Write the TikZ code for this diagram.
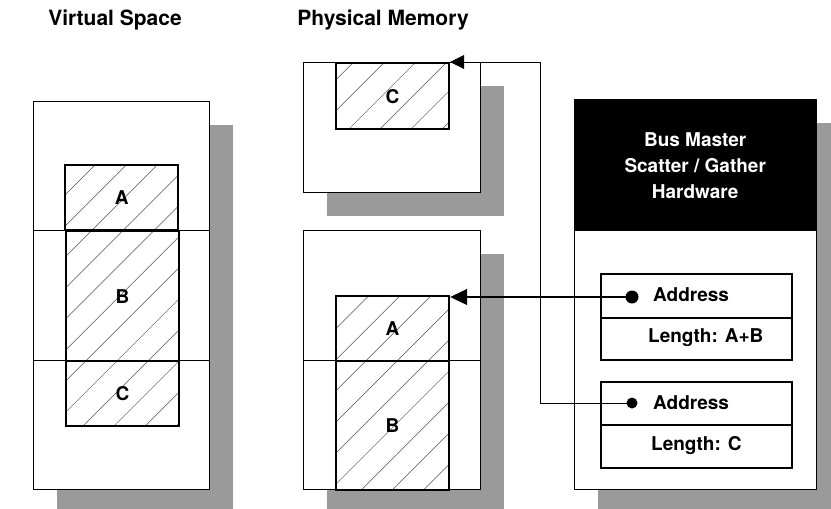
\documentclass[tikz,border=0pt]{standalone}
\usepackage{fontspec}
\setmainfont{TeX Gyre Heros}
\usetikzlibrary{positioning,arrows.meta,shadows,patterns.meta}
\definecolor{sgSombra}{HTML}{9A9A9A}
\definecolor{sgTrama}{HTML}{505050}
\tikzset{
  memoria/.style={rectangle, draw=black, line width=0.8pt, fill=white,
    inner sep=0pt, anchor=north west,
    general shadow={fill=sgSombra, shadow xshift=24pt, shadow yshift=-24pt}},
  bloque/.style={rectangle, draw=black, line width=2.2pt, inner sep=0pt,
    anchor=north west, minimum width=113pt,
    pattern={Lines[angle=45,distance=22pt,line width=0.5pt]}, pattern color=sgTrama,
    font=\fontsize{19}{22}\selectfont\bfseries},
  campo/.style={rectangle, draw=black, line width=2pt, fill=white,
    inner sep=0pt, anchor=north west, minimum width=191pt},
  texto/.style={inner sep=0pt, font=\fontsize{19}{22}\selectfont\bfseries},
  titulo/.style={inner sep=0pt, font=\fontsize{21}{24}\selectfont\bfseries},
  punto/.style={circle, fill=black, inner sep=0pt, minimum size=13pt},
  flechaPtr/.style={-{Triangle[length=17pt,width=16pt]}, line width=1.1pt},
  linea/.style={line width=0.8pt},
}
\begin{document}
\begin{tikzpicture}[x=1pt,y=-1pt]
    \useasboundingbox (0,0) rectangle (831,509);
    \clip (0,0) rectangle (831,509);
    \node[titulo] (tVirt) at (115,20) {Virtual Space};
    \node[titulo] (tFis) at (383,20) {Physical Memory};
    % espacio virtual
    \node[memoria, minimum width=176pt, minimum height=388pt] (virt) at (33,101) {};
    \draw[linea] (33,230) -- (209,230) (33,360) -- (209,360);
    \node[bloque, minimum height=65pt] (vA) at (65,165) {A};
    \node[bloque, minimum height=130pt] (vB) at (65,230) {B};
    \node[bloque, minimum height=65pt] (vC) at (65,360) {C};
    % memoria fisica
    \node[memoria, minimum width=177pt, minimum height=130pt] (fisArr) at (303,62) {};
    \node[bloque, minimum height=66pt] (pC) at (335,62) {C};
    \node[memoria, minimum width=177pt, minimum height=259pt] (fisAba) at (303,230) {};
    \draw[linea] (303,360) -- (480,360);
    \node[bloque, minimum height=65pt] (pA) at (335,295) {A};
    \node[bloque, minimum height=129pt] (pB) at (335,360) {B};
    % hardware
    \node[memoria, minimum width=242pt, minimum height=390pt] (hw) at (574,99) {};
    \node[rectangle, fill=black, anchor=north west, inner sep=0pt, minimum width=242pt,
      minimum height=132pt, text=white, align=center,
      font=\fontsize{19}{26}\selectfont\bfseries] (hwTit) at (574,99)
      {Bus Master\\Scatter / Gather\\Hardware};
    \node[campo, minimum height=44pt] (d1a) at (600,273) {};
    \node[campo, minimum height=42pt] (d1b) at (600,317) {};
    \node[campo, minimum height=43pt] (d2a) at (600,381) {};
    \node[campo, minimum height=43pt] (d2b) at (600,424) {};
    \node[texto, anchor=west] (d1aT) at (653,295) {Address};
    \node[texto, anchor=west] (d1bT) at (648,338) {Length: A+B};
    \node[texto, anchor=west] (d2aT) at (653,403) {Address};
    \node[texto, anchor=west] (d2bT) at (651,446) {Length: C};
    \node[punto] (p1) at (632,297) {};
    \node[punto, minimum size=11pt] (p2) at (632,403) {};
    \coordinate (codo) at (540,62);
    \draw[flechaPtr] (p1.center) -- (p1.center -| pA.north east);
    \draw[-{Triangle[length=14pt,width=14pt]}, line width=0.7pt] (p2.center) -| (codo) -- (pC.north east);
  \end{tikzpicture}
\end{document}
